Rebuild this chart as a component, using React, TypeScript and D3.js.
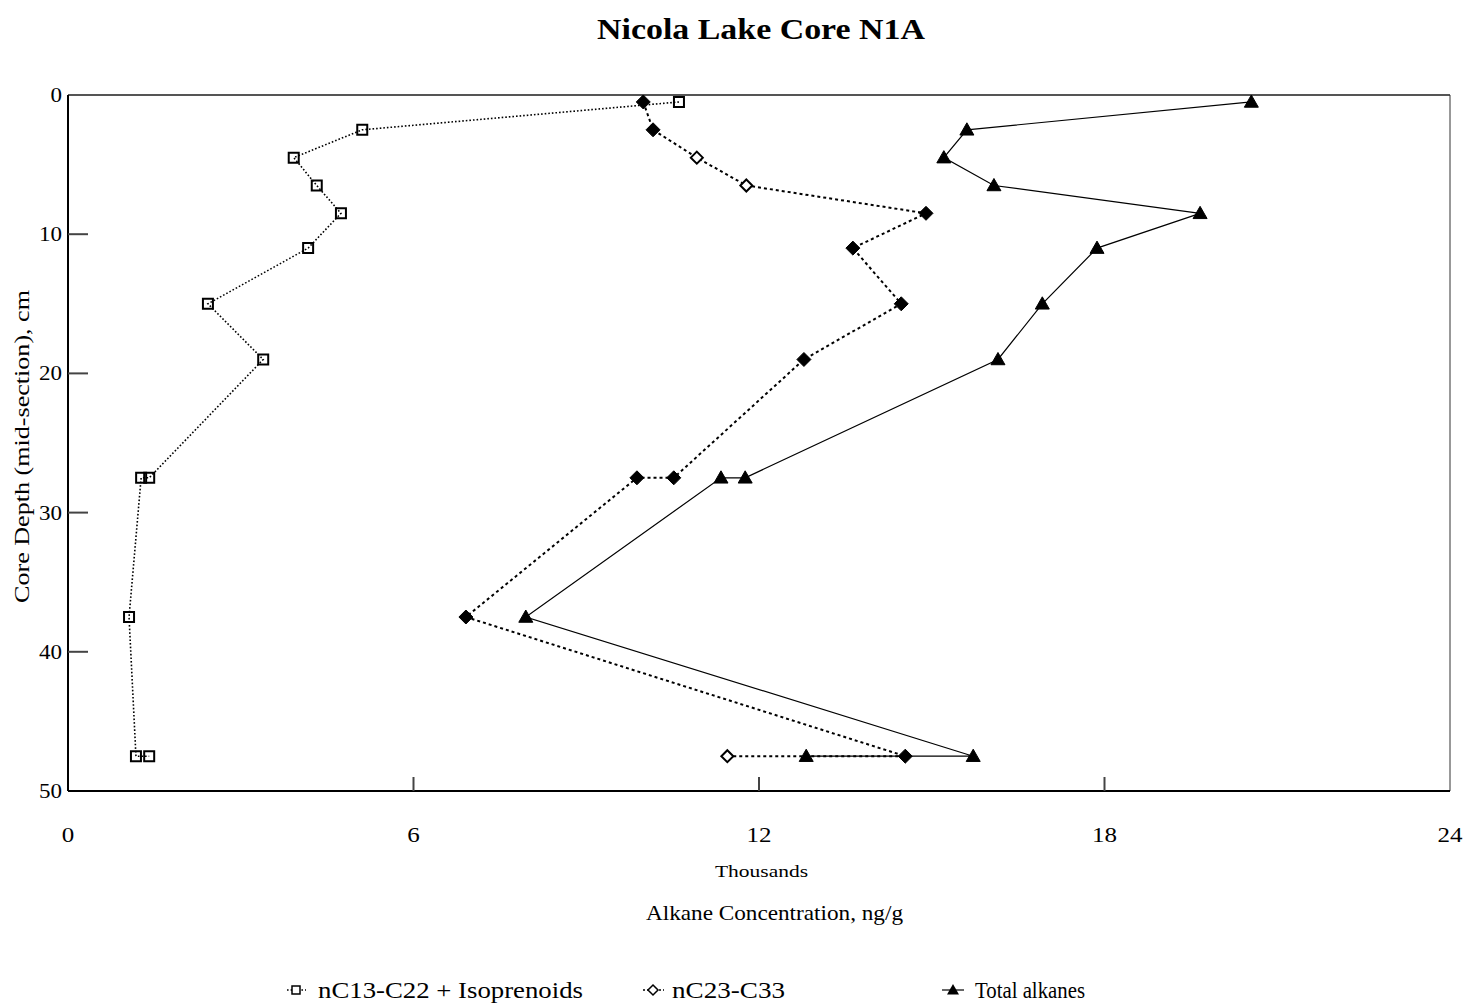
import React from "react";
import * as d3 from "d3";

// Mid-section depths (cm) of each sampled interval; replicate samples share a depth
const depths = [0.5, 2.5, 4.5, 6.5, 8.5, 11, 15, 19, 27.5, 27.5, 37.5, 47.5, 47.5];

// Concentrations in thousands of ng/g
const shortChain = [10.61, 5.11, 3.92, 4.32, 4.74, 4.17, 2.43, 3.39, 1.41, 1.27, 1.06, 1.18, 1.41];
const longChain = [9.99, 10.16, 10.92, 11.78, 14.9, 13.63, 14.47, 12.78, 10.52, 9.88, 6.91, 14.54, 11.45];
const totalAlkanes = [20.55, 15.61, 15.21, 16.08, 19.66, 17.87, 16.92, 16.15, 11.76, 11.34, 7.95, 15.72, 12.82];

// Long-chain samples reported as confirmed values (drawn solid)
const longChainConfirmed = [true, true, false, false, true, true, true, true, true, true, true, true, false];

const xTicks = [0, 6, 12, 18, 24];
const yTicks = [0, 10, 20, 30, 40, 50];

const seriesNames = ["nC13-C22 + Isoprenoids", "nC23-C33", "Total alkanes"];

const W = 1474;
const H = 1007;
const left = 68;
const right = 1450;
const top = 95;
const bottom = 791;
const serif = "'Liberation Serif', 'Times New Roman', serif";

export default function App() {
  const x = d3.scaleLinear().domain([0, 24]).range([left, right]);
  const y = d3.scaleLinear().domain([0, 50]).range([top, bottom]);

  const lineFor = (vals: number[]) =>
    d3
      .line<number>()
      .x((v) => x(v))
      .y((_, i) => y(depths[i]))(vals) as string;

  const squarePath = (cx: number, cy: number, s = 10) =>
    `M${cx - s / 2},${cy - s / 2}h${s}v${s}h${-s}Z`;
  const diamondPath = (cx: number, cy: number, s = 7) =>
    `M${cx},${cy - s}L${cx + s},${cy}L${cx},${cy + s}L${cx - s},${cy}Z`;
  const trianglePath = (cx: number, cy: number, s = 7) =>
    `M${cx},${cy - s}L${cx + s},${cy + s * 0.75}L${cx - s},${cy + s * 0.75}Z`;

  const legendY = 990;
  // width of a tick label: wide digit set
  const tickWidth = (t: number) => String(t).length * 12.5;

  return (
    <svg width={W} height={H} style={{ position: "absolute", left: 0, top: 0, background: "#fff" }}>
      <rect width={W} height={H} fill="#fff" />
      <text x={597} y={39} fontFamily={serif} fontWeight="bold" fontSize={30} textLength={328} lengthAdjust="spacingAndGlyphs">
        Nicola Lake Core N1A
      </text>

      {/* plot frame */}
      <line x1={left} y1={top} x2={right} y2={top} stroke="#555" strokeWidth={2} />
      <line x1={right} y1={top} x2={right} y2={bottom} stroke="#333" strokeWidth={1} />
      <line x1={left} y1={top} x2={left} y2={bottom} stroke="#000" strokeWidth={2} />
      <line x1={left} y1={bottom} x2={right} y2={bottom} stroke="#000" strokeWidth={2} />

      {/* axis ticks */}
      {xTicks.slice(1, -1).map((t) => (
        <line key={"xt" + t} x1={x(t)} x2={x(t)} y1={bottom} y2={bottom - 14} stroke="#444" strokeWidth={2} />
      ))}
      {yTicks.slice(1, -1).map((t) => (
        <line key={"yt" + t} x1={left} x2={left + 20} y1={y(t)} y2={y(t)} stroke="#444" strokeWidth={2} />
      ))}
      {xTicks.map((t) => (
        <text
          key={"xl" + t}
          x={x(t) - tickWidth(t) / 2}
          y={842}
          fontFamily={serif}
          fontSize={22}
          textLength={tickWidth(t)}
          lengthAdjust="spacingAndGlyphs"
        >
          {t}
        </text>
      ))}
      {yTicks.map((t) => (
        <text
          key={"yl" + t}
          x={62 - tickWidth(t) * 0.92}
          y={y(t) + 7}
          fontFamily={serif}
          fontSize={20}
          textLength={tickWidth(t) * 0.92}
          lengthAdjust="spacingAndGlyphs"
        >
          {t}
        </text>
      ))}

      <text x={715} y={877} fontFamily={serif} fontSize={17} textLength={93} lengthAdjust="spacingAndGlyphs">
        Thousands
      </text>
      <text x={646} y={920} fontFamily={serif} fontSize={22} textLength={257} lengthAdjust="spacingAndGlyphs">
        Alkane Concentration, ng/g
      </text>
      <text
        transform={`translate(29,${603}) rotate(-90)`}
        fontFamily={serif}
        fontSize={22}
        textLength={313}
        lengthAdjust="spacingAndGlyphs"
      >
        Core Depth (mid-section), cm
      </text>

      {/* series lines */}
      <path d={lineFor(shortChain)} fill="none" stroke="#000" strokeWidth={1.6} strokeDasharray="1.6 2" />
      <path d={lineFor(longChain)} fill="none" stroke="#000" strokeWidth={2} strokeDasharray="3 3" />
      <path d={lineFor(totalAlkanes)} fill="none" stroke="#000" strokeWidth={1.2} />

      {/* markers */}
      {shortChain.map((v, i) => (
        <path key={"s" + i} d={squarePath(x(v), y(depths[i]))} fill="none" stroke="#000" strokeWidth={2} />
      ))}
      {longChain.map((v, i) => (
        <path
          key={"l" + i}
          d={diamondPath(x(v), y(depths[i]), longChainConfirmed[i] ? 7 : 6)}
          fill={longChainConfirmed[i] ? "#000" : "#fff"}
          stroke="#000"
          strokeWidth={longChainConfirmed[i] ? 1 : 2}
        />
      ))}
      {totalAlkanes.map((v, i) => (
        <path key={"t" + i} d={trianglePath(x(v), y(depths[i]))} fill="#000" stroke="#000" strokeWidth={1} />
      ))}

      {/* legend */}
      <g fontFamily={serif} fontSize={23}>
        <line x1={287} x2={306} y1={legendY} y2={legendY} stroke="#000" strokeWidth={1.6} strokeDasharray="1.6 2" />
        <path d={squarePath(296, legendY, 8)} fill="#fff" stroke="#000" strokeWidth={1.5} />
        <text x={318} y={legendY + 8} textLength={265} lengthAdjust="spacingAndGlyphs">{seriesNames[0]}</text>

        <line x1={643} x2={664} y1={legendY} y2={legendY} stroke="#000" strokeWidth={1.6} strokeDasharray="2 2" />
        <path d={diamondPath(653, legendY, 5)} fill="#fff" stroke="#000" strokeWidth={1.5} />
        <text x={672} y={legendY + 8} textLength={113} lengthAdjust="spacingAndGlyphs">{seriesNames[1]}</text>

        <line x1={942} x2={964} y1={legendY} y2={legendY} stroke="#000" strokeWidth={1.2} />
        <path d={trianglePath(953, legendY, 6)} fill="#000" />
        <text x={975} y={legendY + 8} textLength={110} lengthAdjust="spacingAndGlyphs">{seriesNames[2]}</text>
      </g>
    </svg>
  );
}
